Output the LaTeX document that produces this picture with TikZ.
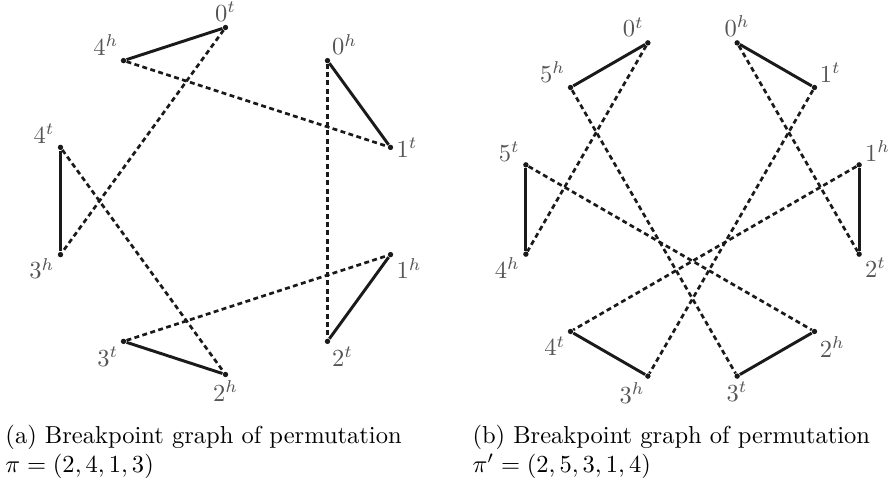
\documentclass[tikz,border=0pt]{standalone}
\usepackage{xcolor}
\usepackage{tikz}
\usepackage{amsmath}
\definecolor{cline}{HTML}{1A1A1A}
\definecolor{clabel}{HTML}{555555}
\tikzset{
  vtx/.style={circle, fill=cline, inner sep=0pt, minimum size=2.2pt},
  realedge/.style={line width=1.2pt, color=cline},
  desireedge/.style={line width=1.1pt, color=cline, dash pattern=on 2pt off 1.4pt},
  vlabel/.style={text=clabel, inner sep=1pt},
  subcap/.style={align=left, inner sep=0pt, anchor=north west}
}

\begin{document}
\begin{tikzpicture}[x=0.408pt, y=0.408pt, label distance=0pt, every label/.style={vlabel}]
  \useasboundingbox (0,0) rectangle (891,485);

  % (a) pi = (2,4,1,3)
  \begin{scope}[shift={(225.5,284)}]
    \node[vtx, label=90:$0^t$] (a0t) at (90:173.5) {};
    \node[vtx, label=60:$0^h$] (a0h) at (54:173.5) {};
    \node[vtx, label=0:$1^t$] (a1t) at (18:173.5) {};
    \node[vtx, label=-10:$1^h$] (a1h) at (-18:173.5) {};
    \node[vtx, label=-60:$2^t$] (a2t) at (-54:173.5) {};
    \node[vtx, label=-90:$2^h$] (a2h) at (-90:173.5) {};
    \node[vtx, label=225:$3^t$] (a3t) at (234:173.5) {};
    \node[vtx, label=190:$3^h$] (a3h) at (198:173.5) {};
    \node[vtx, label=170:$4^t$] (a4t) at (162:173.5) {};
    \node[vtx, label=135:$4^h$] (a4h) at (126:173.5) {};
  \end{scope}

  \draw[desireedge] (a0t) -- (a3h);
  \draw[desireedge] (a4h) -- (a1t);
  \draw[desireedge] (a0h) -- (a2t);
  \draw[desireedge] (a4t) -- (a2h);
  \draw[desireedge] (a3t) -- (a1h);

  \draw[realedge] (a4h) -- (a0t);
  \draw[realedge] (a0h) -- (a1t);
  \draw[realedge] (a1h) -- (a2t);
  \draw[realedge] (a3t) -- (a2h);
  \draw[realedge] (a4t) -- (a3h);

  % (b) pi' = (2,5,3,1,4)
  \begin{scope}[shift={(692.5,275.5)}]
    \node[vtx, label=110:$0^t$] (b0t) at (105:172.5) {};
    \node[vtx, label=90:$0^h$] (b0h) at (75:172.5) {};
    \node[vtx, label=40:$1^t$] (b1t) at (45:172.5) {};
    \node[vtx, label=10:$1^h$] (b1h) at (15:172.5) {};
    \node[vtx, label=-15:$2^t$] (b2t) at (-15:172.5) {};
    \node[vtx, label=-40:$2^h$] (b2h) at (-45:172.5) {};
    \node[vtx, label=-90:$3^t$] (b3t) at (-75:172.5) {};
    \node[vtx, label=-95:$3^h$] (b3h) at (-105:172.5) {};
    \node[vtx, label=220:$4^t$] (b4t) at (225:172.5) {};
    \node[vtx, label=195:$4^h$] (b4h) at (195:172.5) {};
    \node[vtx, label=170:$5^t$] (b5t) at (165:172.5) {};
    \node[vtx, label=140:$5^h$] (b5h) at (135:172.5) {};
  \end{scope}

  \draw[desireedge] (b0t) -- (b4h);
  \draw[desireedge] (b5h) -- (b3t);
  \draw[desireedge] (b0h) -- (b2t);
  \draw[desireedge] (b1t) -- (b3h);
  \draw[desireedge] (b5t) -- (b2h);
  \draw[desireedge] (b1h) -- (b4t);

  \draw[realedge] (b5h) -- (b0t);
  \draw[realedge] (b0h) -- (b1t);
  \draw[realedge] (b1h) -- (b2t);
  \draw[realedge] (b3t) -- (b2h);
  \draw[realedge] (b4t) -- (b3h);
  \draw[realedge] (b5t) -- (b4h);

  % subcaptions
  \node[subcap] (capa) at (5,60.4) {(a) Breakpoint graph of permutation\\$\pi = (2,4,1,3)$};
  \node[subcap] (capb) at (472,60.4) {(b) Breakpoint graph of permutation\\$\pi' = (2,5,3,1,4)$};
\end{tikzpicture}
\end{document}
